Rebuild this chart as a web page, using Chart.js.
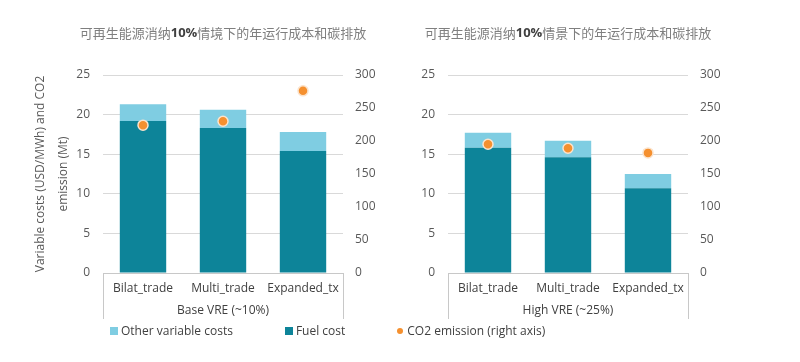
<!DOCTYPE html>
<html>
<head>
<meta charset="utf-8">
<script src="https://cdn.jsdelivr.net/npm/chart.js@4.4.1/dist/chart.umd.min.js"></script>
<style>
  body { margin: 0; background: #fff; }
  #wrap { position: relative; width: 800px; height: 362px; font-family: "Open Sans", sans-serif; }
  .box { position: absolute; top: 0; width: 400px; height: 362px; }
  #legend { position: absolute; top: 322px; left: 110px; display: flex; align-items: center; font-size: 12px; color: #404040; }
  #legend .item { display: flex; align-items: center; margin-right: 52px; }
  #legend .sq { width: 8px; height: 8px; margin-right: 3px; }
  #legend .dot { width: 6px; height: 6px; border-radius: 50%; margin-right: 4px; }
</style>
</head>
<body>
<div id="wrap">
  <div class="box" style="left:0"><canvas id="chartLeft" width="400" height="362"></canvas></div>
  <div class="box" style="left:400px"><canvas id="chartRight" width="400" height="362"></canvas></div>
  <div id="legend"></div>
</div>
<script>
const categories = ["Bilat_trade", "Multi_trade", "Expanded_tx"];

// base VRE (~10%)
const baseFuel = [19.2, 18.3, 15.4];
const baseOther = [2.1, 2.3, 2.4];
const baseCO2 = [224, 230, 276];

// high VRE (~25%)
const highFuel = [15.8, 14.6, 10.7];
const highOther = [1.9, 2.1, 1.8];
const highCO2 = [195, 189, 182];

const leftTitle = ["可再生能源消纳", "10%", "情境下的年运行成本和碳排放"];
const rightTitle = ["可再生能源消纳", "10%", "情景下的年运行成本和碳排放"];
const groupLabels = ["Base VRE (~10%)", "High VRE (~25%)"];
const yTitle = ["Variable costs (USD/MWh) and CO2", "emission (Mt)"];
const seriesNames = ["Other variable costs", "Fuel cost", "CO2 emission (right axis)"];

const FUEL = "#0d8499";
const OTHER = "#7fcde2";
const ORANGE = "#f5902f";
const TXT = "#404040";
const GRID = "#d9d9d9";

Chart.defaults.font.family = "'Open Sans', sans-serif";
Chart.defaults.font.size = 12;
Chart.defaults.color = TXT;

// title with bold middle part, centered over plot area
const titlePlugin = {
  id: "partTitle",
  afterDraw(chart, args, opts) {
    const ctx = chart.ctx;
    const parts = opts.parts;
    const fonts = ["13px 'Noto Sans CJK SC'", "bold 13px 'Open Sans'", "13px 'Noto Sans CJK SC'"];
    const colors = ["#7f7f7f", "#404040", "#7f7f7f"];
    ctx.save();
    let total = 0;
    parts.forEach((p, i) => { ctx.font = fonts[i]; total += ctx.measureText(p).width; });
    let x = (chart.chartArea.left + chart.chartArea.right) / 2 - total / 2;
    ctx.textBaseline = "middle";
    parts.forEach((p, i) => {
      ctx.font = fonts[i];
      ctx.fillStyle = colors[i];
      ctx.fillText(p, x, 33);
      x += ctx.measureText(p).width;
    });
    ctx.restore();
  }
};

// vertical edge lines of the category box
const boxPlugin = {
  id: "catBox",
  afterDraw(chart) {
    const {ctx, chartArea} = chart;
    ctx.save();
    ctx.strokeStyle = "#c8c8c8";
    ctx.lineWidth = 1;
    ctx.beginPath();
    [chartArea.left, chartArea.right].forEach(x => {
      ctx.moveTo(Math.round(x) + 0.5, chartArea.bottom);
      ctx.lineTo(Math.round(x) + 0.5, chartArea.bottom + 46);
    });
    ctx.stroke();
    ctx.restore();
  }
};

function makeChart(id, fuel, other, co2, title, group, leftW, rightW, showYTitle) {
  return new Chart(document.getElementById(id), {
    type: "bar",
    data: {
      labels: categories,
      datasets: [
        {
          type: "line",
          label: seriesNames[2],
          data: co2,
          yAxisID: "y1",
          showLine: false,
          pointRadius: 5,
          pointHoverRadius: 5,
          pointBackgroundColor: ORANGE,
          pointBorderColor: "#fbe3cc",
          pointBorderWidth: 1.5,
          order: 0
        },
        {
          label: seriesNames[1],
          data: fuel,
          backgroundColor: FUEL,
          stack: "s",
          barPercentage: 0.58,
          categoryPercentage: 1,
          order: 1
        },
        {
          label: seriesNames[0],
          data: other,
          backgroundColor: OTHER,
          stack: "s",
          barPercentage: 0.58,
          categoryPercentage: 1,
          order: 1
        }
      ]
    },
    options: {
      responsive: false,
      animation: false,
      layout: { padding: { top: 75, left: 0, right: 0, bottom: 0 } },
      plugins: {
        legend: { display: false },
        tooltip: { enabled: false },
        partTitle: { parts: title }
      },
      scales: {
        x: {
          stacked: true,
          grid: { display: false, drawTicks: false },
          border: { display: true, color: "#c8c8c8" },
          ticks: { padding: 8, color: TXT, font: { size: 12 } },
          title: { display: true, text: group, color: TXT, font: { size: 12 }, padding: { bottom: 44 } },
          afterFit: s => { s.height = 89; }
        },
        y: {
          stacked: true,
          position: "left",
          min: 0,
          max: 25,
          ticks: { stepSize: 5, padding: 13, color: "#595959" },
          grid: { color: GRID, drawTicks: false },
          border: { display: false },
          title: {
            display: showYTitle,
            text: yTitle,
            color: "#595959",
            font: { size: 12, lineHeight: 1.9 },
            padding: { top: 29 }
          },
          afterFit: s => { s.width = leftW; }
        },
        y1: {
          stacked: false,
          position: "right",
          min: 0,
          max: 300,
          ticks: { stepSize: 50, padding: 12, color: "#595959" },
          grid: { display: false, drawTicks: false },
          border: { display: false },
          afterFit: s => { s.width = rightW; }
        }
      }
    },
    plugins: [titlePlugin, boxPlugin]
  });
}

makeChart("chartLeft", baseFuel, baseOther, baseCO2, leftTitle, groupLabels[0], 103, 57, true);
makeChart("chartRight", highFuel, highOther, highCO2, rightTitle, groupLabels[1], 48, 112, false);

// shared legend
const legend = document.getElementById("legend");
[[seriesNames[0], OTHER, "sq"], [seriesNames[1], FUEL, "sq"], [seriesNames[2], ORANGE, "dot"]].forEach(([name, col, cls]) => {
  const item = document.createElement("div");
  item.className = "item";
  const mark = document.createElement("span");
  mark.className = cls;
  mark.style.background = col;
  item.appendChild(mark);
  item.appendChild(document.createTextNode(name));
  legend.appendChild(item);
});
</script>
</body>
</html>
